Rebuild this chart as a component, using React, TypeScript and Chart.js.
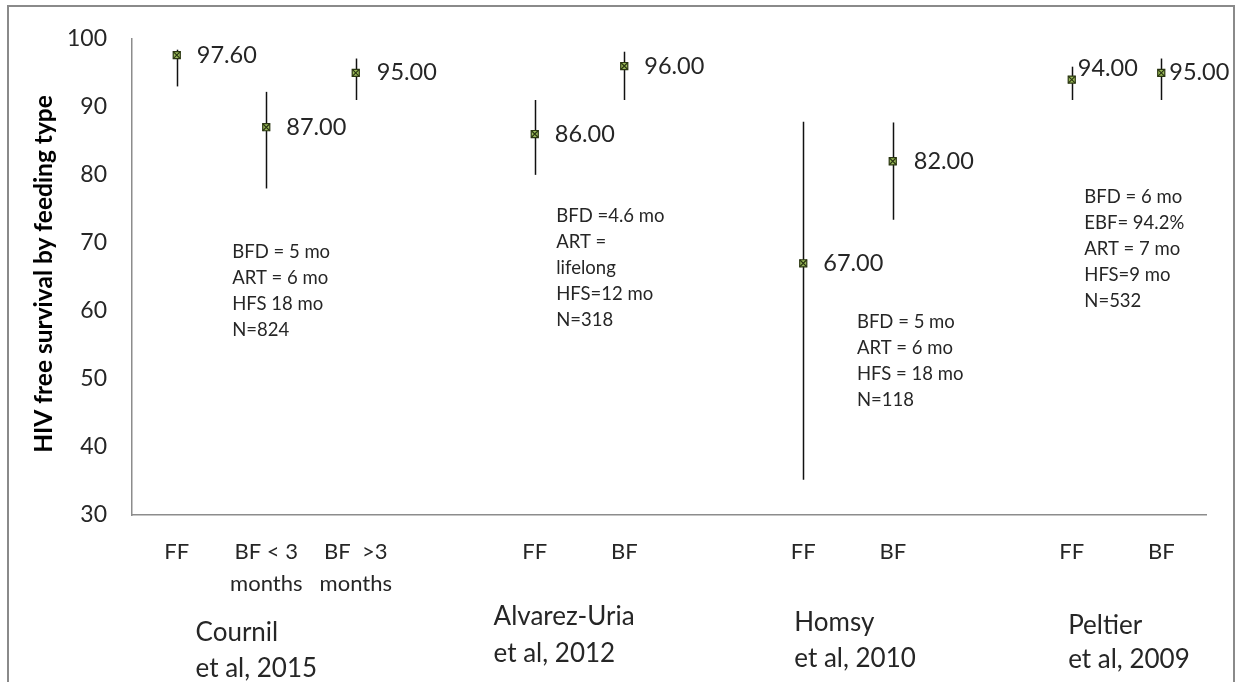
import React, { useEffect, useRef } from "react";
import { Chart, registerables } from "chart.js";

Chart.register(...registerables);

// ---- data ----
const categories: (string | string[])[] = [
  "FF", ["BF < 3", "months"], ["BF  >3", "months"], "",
  "FF", "BF", "",
  "FF", "BF", "",
  "FF", "BF",
];
const survival: (number | null)[] = [97.6, 87, 95, null, 86, 96, null, 67, 82, null, 94, 95];
const errLow: (number | null)[] = [93, 78, 91, null, 80, 91, null, 35.2, 73.4, null, 91, 91];
const errHigh: (number | null)[] = [98.4, 92.2, 97.1, null, 91, 98.1, null, 87.8, 87.7, null, 95.9, 97.1];
const yTicks = [30, 40, 50, 60, 70, 80, 90, 100];
const yTitle = "HIV free survival by feeding type";

const studies = [
  ["Cournil", "et al, 2015"],
  ["Alvarez-Uria", "et al, 2012"],
  ["Homsy", "et al, 2010"],
  ["Peltier", "et al, 2009"],
];
const notes = [
  ["BFD = 5 mo", "ART = 6 mo", "HFS 18 mo", "N=824"],
  ["BFD =4.6 mo", "ART =", "lifelong", "HFS=12 mo", "N=318"],
  ["BFD = 5 mo", "ART = 6 mo", "HFS = 18 mo", "N=118"],
  ["BFD = 6 mo", "EBF= 94.2%", "ART = 7 mo", "HFS=9 mo", "N=532"],
];

// ---- layout / style (anchors in category index / value units) ----
const studyAnchorX = [0.21, 3.54, 6.9, 9.96];
const studyLineY = [[633, 669], [617, 654], [623, 659], [626, 660]];
const noteAnchor = [
  { x: 0.62, v: 68.7 },
  { x: 4.24, v: 73.9 },
  { x: 7.6, v: 58.3 },
  { x: 10.14, v: 76.8 },
];
const labelShift = [
  [20, 0], [20, 0], [21, 0], [0, 0], [20, 0], [20, 0], [0, 0], [20, 0], [21, 0], [0, 0], [6, -11], [8, 0],
];

const FONT = "Lato, 'Open Sans', sans-serif";
const TEXT = "#262626";
const AXIS = "#8c8c8c";

const overlay = {
  id: "overlay",
  beforeDraw(chart: any) {
    const ctx = chart.ctx;
    ctx.save();
    ctx.fillStyle = "#fff";
    ctx.fillRect(0, 0, chart.width, chart.height);
    ctx.strokeStyle = "#8a8a8a";
    ctx.lineWidth = 2;
    ctx.beginPath();
    ctx.moveTo(8, chart.height + 5);
    ctx.lineTo(8, 6);
    ctx.lineTo(1234, 6);
    ctx.lineTo(1234, chart.height + 5);
    ctx.stroke();
    ctx.restore();
  },
  beforeDatasetsDraw(chart: any) {
    const ctx = chart.ctx;
    const xs = chart.scales.x;
    const ys = chart.scales.y;
    ctx.save();
    ctx.strokeStyle = "#111";
    ctx.lineWidth = 1.5;
    survival.forEach((v, i) => {
      if (v == null || errLow[i] == null || errHigh[i] == null) return;
      const x = Math.round(xs.getPixelForValue(i)) + 0.5;
      ctx.beginPath();
      ctx.moveTo(x, ys.getPixelForValue(errHigh[i] as number));
      ctx.lineTo(x, ys.getPixelForValue(errLow[i] as number));
      ctx.stroke();
    });
    ctx.restore();
  },
  afterDatasetsDraw(chart: any) {
    const ctx = chart.ctx;
    const xs = chart.scales.x;
    const ys = chart.scales.y;
    ctx.save();
    // marker crosses
    ctx.strokeStyle = "#2a3612";
    ctx.lineWidth = 1.2;
    survival.forEach((v, i) => {
      if (v == null) return;
      const x = xs.getPixelForValue(i);
      const y = ys.getPixelForValue(v);
      ctx.beginPath();
      ctx.moveTo(x - 3.5, y - 3.5);
      ctx.lineTo(x + 3.5, y + 3.5);
      ctx.moveTo(x + 3.5, y - 3.5);
      ctx.lineTo(x - 3.5, y + 3.5);
      ctx.stroke();
    });
    // data labels
    ctx.fillStyle = TEXT;
    ctx.font = `23.5px ${FONT}`;
    ctx.textAlign = "left";
    ctx.textBaseline = "middle";
    survival.forEach((v, i) => {
      if (v == null) return;
      const x = xs.getPixelForValue(i) + labelShift[i][0];
      const y = ys.getPixelForValue(v) + labelShift[i][1];
      ctx.fillText(v.toFixed(2), x, y);
    });
    // notes
    ctx.font = `18.5px ${FONT}`;
    notes.forEach((lines, k) => {
      const x = xs.getPixelForValue(noteAnchor[k].x);
      const y0 = ys.getPixelForValue(noteAnchor[k].v);
      lines.forEach((t, j) => ctx.fillText(t, x, y0 + j * 26));
    });
    // study labels
    ctx.font = `26px ${FONT}`;
    studies.forEach((lines, k) => {
      const x = xs.getPixelForValue(studyAnchorX[k]);
      lines.forEach((t, j) => ctx.fillText(t, x, studyLineY[k][j]));
    });
    // y title
    ctx.font = `bold 24.5px ${FONT}`;
    ctx.textAlign = "center";
    ctx.fillStyle = "#000";
    ctx.translate(44, 274);
    ctx.rotate(-Math.PI / 2);
    ctx.fillText(yTitle, 0, 0);
    ctx.restore();
  },
};

export default function App() {
  const ref = useRef<HTMLCanvasElement | null>(null);
  useEffect(() => {
    document.body.style.margin = "0";
    if (!ref.current) return;
    const chart = new Chart(ref.current, {
      type: "line",
      data: {
        labels: categories as any,
        datasets: [
          {
            data: survival as any,
            showLine: false,
            pointStyle: "rect",
            pointRadius: 5,
            pointHoverRadius: 5,
            pointBackgroundColor: "#9bbb59",
            pointBorderColor: "#2a3612",
            pointBorderWidth: 1.2,
          },
        ],
      },
      options: {
        animation: false,
        responsive: false,
        devicePixelRatio: 1,
        layout: { padding: { left: 0, top: 32, right: 30, bottom: 0 } },
        plugins: { legend: { display: false }, tooltip: { enabled: false }, title: { display: false } },
        scales: {
          x: {
            type: "category",
            offset: true,
            grid: { display: false, drawTicks: false },
            border: { display: true, color: AXIS, width: 1.5 },
            ticks: {
              color: TEXT,
              font: { family: FONT, size: 22, lineHeight: 1.45 },
              padding: 21,
              maxRotation: 0,
              autoSkip: false,
            },
            afterFit: (s: any) => { s.height = 167; },
          },
          y: {
            min: 30,
            max: 100,
            afterBuildTicks: (s: any) => { s.ticks = yTicks.map((v) => ({ value: v })); },
            grid: { display: false, drawTicks: false },
            border: { display: true, color: AXIS, width: 1.5 },
            ticks: {
              color: TEXT,
              font: { family: FONT, size: 23 },
              padding: 25,
            },
            afterFit: (s: any) => { s.width = 132; },
          },
        },
      },
      plugins: [overlay],
    });
    return () => chart.destroy();
  }, []);
  return (
    <div style={{ position: "fixed", left: 0, top: 0, width: 1236, height: 682 }}>
      <canvas ref={ref} width={1236} height={682} />
    </div>
  );
}
